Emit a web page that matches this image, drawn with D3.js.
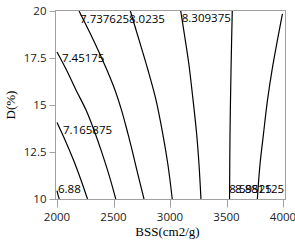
<!DOCTYPE html>
<html>
<head>
<meta charset="utf-8">
<script src="https://cdn.jsdelivr.net/npm/d3@7"></script>
<style>
    body { margin: 0; background: #fff; }
    svg { display: block; }
</style>
</head>
<body>
<div id="contour_chart"></div>
<script>
// contour levels (label text as shown on the chart)
let levels = ["6.88", "7.165875", "7.45175", "7.737625", "8.0235", "8.309375", "8.59525", "8.881125"];

// points along each contour line, [BSS, D]
let contourLines = [
    [[2000, 10.45], [2009, 10.22], [2020, 10.0]],
    [[2000, 14.07], [2071, 13.14], [2146, 12.07], [2212, 11.01], [2270, 10.0]],
    [[2000, 17.82], [2084, 16.86], [2168, 15.80], [2257, 14.73], [2327, 13.67], [2389, 12.61], [2460, 11.28], [2520, 10.0]],
    [[2195, 20.0], [2279, 18.99], [2363, 17.93], [2442, 16.86], [2513, 15.80], [2571, 14.73], [2619, 13.67], [2664, 12.61], [2717, 11.28], [2770, 10.0]],
    [[2649, 20.0], [2726, 18.46], [2805, 16.86], [2876, 15.27], [2938, 13.40], [2982, 11.81], [3020, 10.0]],
    [[3095, 20.0], [3142, 18.19], [3168, 17.13], [3204, 15.27], [3235, 13.51], [3257, 11.81], [3274, 10.0]],
    [[3551, 20.0], [3540, 16.86], [3531, 13.40], [3527, 10.0]],
    [[3995, 19.85], [3951, 18.46], [3903, 16.86], [3863, 15.27], [3826, 13.40], [3796, 11.81], [3773, 10.0]]
];

// where each level label sits (text baseline), [BSS, D]
let labelBSS = [2009, 2053, 2044, 2204, 2637, 3104, 3525, 4010];
let labelD = [10.30, 13.46, 17.30, 19.35, 19.35, 19.39, 10.30, 10.30];
let labelAnchor = ["start", "start", "start", "start", "start", "start", "start", "end"];

let xTicks = [2000, 2500, 3000, 3500, 4000];
let yTicks = [10, 12.5, 15, 17.5, 20];
let yTickLabels = ["10", "12.5", "15", "17.5", "20"];

let svg = d3.select("#contour_chart")
    .append("svg")
    .attr("width", 295)
    .attr("height", 243);

let xScale = d3.scaleLinear().domain([2000, 4000]).range([57, 283]);
let yScale = d3.scaleLinear().domain([10, 20]).range([199, 11]);

let frame = {left: 55.5, right: 285.5, top: 10.5, bottom: 199.5};
let sansFont = "'Open Sans', 'Noto Sans', sans-serif";
let axisGray = "#a0a0a0";

svg.append("clipPath")
    .attr("id", "plot_clip")
    .append("rect")
    .attr("x", frame.left)
    .attr("y", frame.top)
    .attr("width", frame.right - frame.left)
    .attr("height", frame.bottom - frame.top);

//contour lines
let line = d3.line()
    .x(function (d) { return xScale(d[0]); })
    .y(function (d) { return yScale(d[1]); })
    .curve(d3.curveCatmullRom);

svg.append("g")
    .attr("clip-path", "url(#plot_clip)")
    .selectAll("path")
    .data(contourLines)
    .enter()
    .append("path")
    .attr("d", line)
    .attr("fill", "none")
    .attr("stroke", "#000")
    .attr("stroke-width", 1.2);

//level labels
svg.append("g")
    .selectAll("text")
    .data(levels)
    .enter()
    .append("text")
    .attr("x", function (d, i) { return xScale(labelBSS[i]); })
    .attr("y", function (d, i) { return yScale(labelD[i]); })
    .attr("text-anchor", function (d, i) { return labelAnchor[i]; })
    .attr("font-family", sansFont)
    .attr("font-size", 11.5)
    .attr("fill", "#000")
    .text(function (d) { return d; });

//frame
svg.append("rect")
    .attr("x", frame.left)
    .attr("y", frame.top)
    .attr("width", frame.right - frame.left)
    .attr("height", frame.bottom - frame.top)
    .attr("fill", "none")
    .attr("stroke", axisGray)
    .attr("stroke-width", 1);

//x axis ticks + labels
let xAxis = svg.append("g");
xAxis.selectAll("line")
    .data(xTicks)
    .enter()
    .append("line")
    .attr("x1", function (d) { return Math.round(xScale(d)) + 0.5; })
    .attr("x2", function (d) { return Math.round(xScale(d)) + 0.5; })
    .attr("y1", frame.bottom)
    .attr("y2", frame.bottom + 8)
    .attr("stroke", axisGray);
xAxis.selectAll("text")
    .data(xTicks)
    .enter()
    .append("text")
    .attr("x", function (d) { return xScale(d); })
    .attr("y", 220.5)
    .attr("text-anchor", "middle")
    .attr("font-family", sansFont)
    .attr("font-size", 11.5)
    .attr("fill", "#222")
    .text(function (d) { return d; });

//y axis ticks + labels
let yAxis = svg.append("g");
yAxis.selectAll("line")
    .data(yTicks)
    .enter()
    .append("line")
    .attr("x1", frame.left - 6)
    .attr("x2", frame.left)
    .attr("y1", function (d) { return Math.round(yScale(d)) + 0.5; })
    .attr("y2", function (d) { return Math.round(yScale(d)) + 0.5; })
    .attr("stroke", axisGray);
yAxis.selectAll("text")
    .data(yTicks)
    .enter()
    .append("text")
    .attr("x", 46.5)
    .attr("y", function (d) { return yScale(d); })
    .attr("dy", "0.35em")
    .attr("text-anchor", "end")
    .attr("font-family", sansFont)
    .attr("font-size", 11.5)
    .attr("fill", "#222")
    .text(function (d, i) { return yTickLabels[i]; });

//axis titles
svg.append("text")
    .attr("x", 167.5)
    .attr("y", 235.5)
    .attr("text-anchor", "middle")
    .attr("font-family", "'Liberation Serif', 'Times New Roman', serif")
    .attr("font-size", 13)
    .attr("fill", "#000")
    .text("BSS(cm2/g)");

svg.append("text")
    .attr("transform", "translate(14.5," + 105 + ") rotate(-90)")
    .attr("text-anchor", "middle")
    .attr("font-family", "'Liberation Serif', 'Times New Roman', serif")
    .attr("font-size", 13)
    .attr("fill", "#000")
    .text("D(%)");
</script>
</body>
</html>
